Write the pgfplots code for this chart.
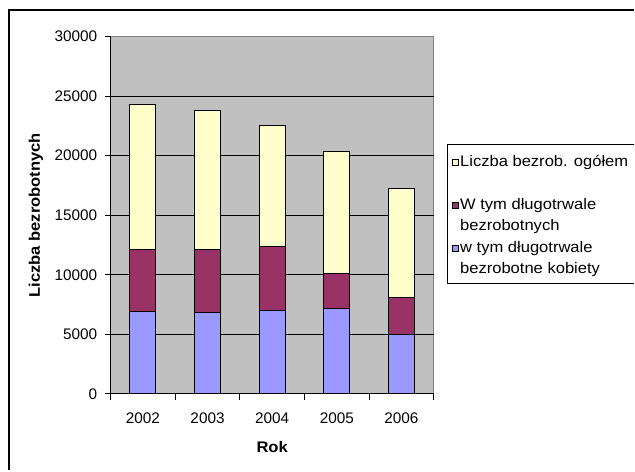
\documentclass[border=0pt]{standalone}
\usepackage{fontspec}
\setmainfont[FakeStretch=1.08]{Liberation Sans}
\newfontfamily\tickfont{Liberation Sans}
\usepackage{pgfplots}
\pgfplotsset{compat=1.18}
\definecolor{plotbg}{HTML}{C0C0C0}
\definecolor{ogol}{HTML}{FFFFCC}
\definecolor{dlugo}{HTML}{993366}
\definecolor{kob}{HTML}{9999FF}
\definecolor{ramka}{HTML}{808080}
\begin{document}
\fontsize{15.4}{18.7}\selectfont
\begin{tikzpicture}
% rozmiar calego rysunku: 635 x 471, os zaczyna sie w (110.7, 76.7)
\path (-110.7bp,-76.7bp) rectangle (524.3bp,394.3bp);
\draw[line width=1.5bp] (-101.7bp,-76.7bp) -- (-101.7bp,384.3bp) -- (524.3bp,384.3bp);
\begin{axis}[
  at={(0,0)}, anchor=south west,
  width=323.6bp, height=357.6bp, scale only axis,
  ybar stacked, bar width=26bp,
  xmin=-0.5, xmax=4.5, ymin=0, ymax=30000,
  xtick={0,1,2,3,4}, xticklabels={2002,2003,2004,2005,2006},
  major x tick style={draw=none},
  minor xtick={-0.5,0.5,1.5,2.5,3.5,4.5},
  ytick={0,5000,...,30000}, scaled y ticks=false,
  yticklabels={0,5000,10000,15000,20000,25000,30000},
  extra y ticks={5000,10000,15000,20000,25000},
  extra y tick labels={},
  extra y tick style={grid=major, major tick length=0bp},
  major grid style={black, line width=1bp},
  tick align=outside, major tick length=6bp, minor tick length=6bp,
  tick style={black, line width=1bp},
  axis x line*=bottom, axis y line*=left,
  axis line style={black, line width=1bp, -},
  axis background/.style={fill=plotbg, draw=ramka, line width=1bp},
  tick label style={font=\tickfont},
  yticklabel style={xshift=-2bp},
  xticklabel style={yshift=-8bp},
  xlabel={\bfseries Rok}, ylabel={\bfseries Liczba bezrobotnych},
  xlabel style={at={(axis description cs:0.5,-0.1488)}, anchor=center},
  ylabel style={at={(axis description cs:-0.2308,0.5)}, anchor=center},
  legend style={at={(1.0414,0.697)}, anchor=north west, draw=none,
    fill=white, inner xsep=5bp, inner ysep=9bp,
    row sep=5.1bp, nodes={text height=11bp, text depth=3.5bp, inner sep=1bp}},
  legend cell align=left,
  legend image code/.code={\draw[draw=black,line width=0.8bp,#1] (0bp,-3bp) rectangle (6bp,3bp);},
]
\addplot[fill=kob, draw=black, line width=1bp, forget plot] coordinates {(0,6880) (1,6800) (2,7020) (3,7190) (4,5000)};
\addplot[fill=dlugo, draw=black, line width=1bp, forget plot] coordinates {(0,5260) (1,5340) (2,5340) (3,2880) (4,3080)};
\addplot[fill=ogol, draw=black, line width=1bp, forget plot] coordinates {(0,12160) (1,11660) (2,10180) (3,10260) (4,9200)};
\addlegendimage{fill=ogol}
\addlegendentry{Liczba bezrob. ogółem}
\addlegendimage{opacity=0}
\addlegendentry{}
\addlegendimage{fill=dlugo}
\addlegendentry{W tym długotrwale}
\addlegendimage{opacity=0}
\addlegendentry{bezrobotnych}
\addlegendimage{fill=kob}
\addlegendentry{w tym długotrwale}
\addlegendimage{opacity=0}
\addlegendentry{bezrobotne kobiety}
\end{axis}
% ramka legendy (prawa krawedz wychodzi poza rysunek)
\draw[line width=1bp] (524.3bp,249.3bp) -- (337bp,249.3bp) -- (337bp,110.3bp) -- (524.3bp,110.3bp);
\end{tikzpicture}
\end{document}
